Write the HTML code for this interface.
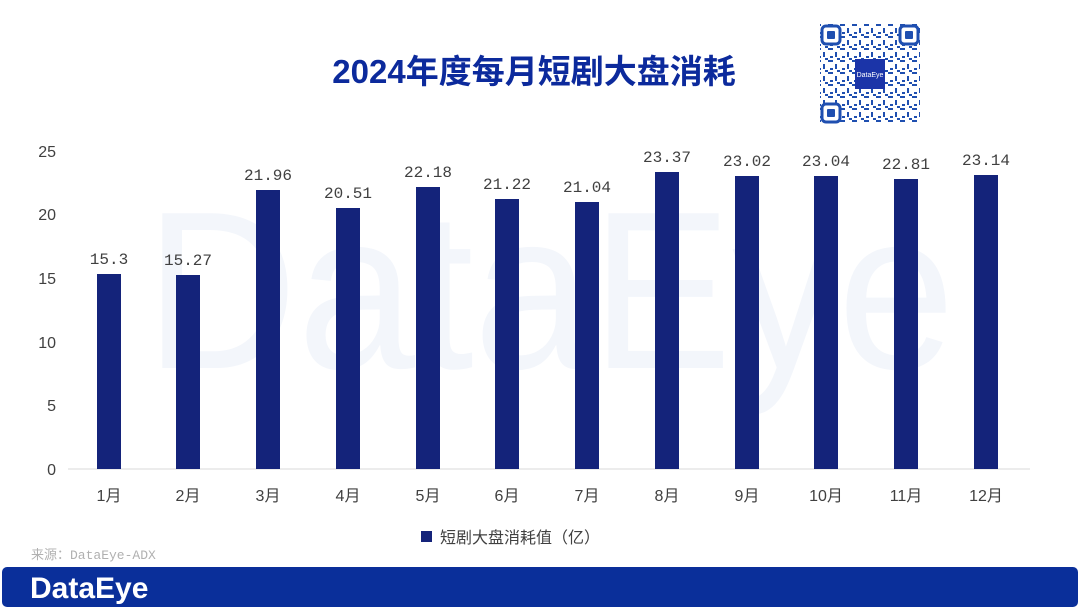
<!DOCTYPE html>
<html><head><meta charset="utf-8"><style>
body{margin:0;width:1080px;height:608px;background:#fff;position:relative;overflow:hidden;font-family:"Liberation Sans","Noto Sans CJK SC",sans-serif}
</style></head><body>
<svg width="1080" height="608" style="position:absolute;left:0;top:0">
<defs>
<pattern id="qr" width="12" height="12" patternUnits="userSpaceOnUse">
<rect x="0" y="0" width="5" height="2" fill="#1f4fb0"/><rect x="7" y="4" width="2" height="5" fill="#1f4fb0"/><rect x="2" y="8" width="3" height="2" fill="#1f4fb0"/><rect x="9" y="10" width="3" height="2" fill="#1f4fb0"/>
</pattern>
</defs>
<text x="550" y="368" font-family="Liberation Sans,sans-serif" font-size="225" fill="#f3f6fb" text-anchor="middle" textLength="810" lengthAdjust="spacingAndGlyphs">DataEye</text>
<rect x="820" y="24" width="100" height="100" fill="url(#qr)"/>
<rect x="822" y="26" width="18" height="18" rx="4" fill="#fff" stroke="#1f4fb0" stroke-width="3"/><rect x="827" y="31" width="8" height="8" rx="1" fill="#1f4fb0"/>
<rect x="900" y="26" width="18" height="18" rx="4" fill="#fff" stroke="#1f4fb0" stroke-width="3"/><rect x="905" y="31" width="8" height="8" rx="1" fill="#1f4fb0"/>
<rect x="822" y="104" width="18" height="18" rx="4" fill="#fff" stroke="#1f4fb0" stroke-width="3"/><rect x="827" y="109" width="8" height="8" rx="1" fill="#1f4fb0"/>
<rect x="855" y="59" width="30" height="30" fill="#1b34a8"/>
<text x="870" y="77" font-size="7" fill="#fff" text-anchor="middle">DataEye</text>
<line x1="68" y1="469" x2="1030" y2="469" stroke="#d9d9d9" stroke-width="1"/>
<g fill="#14237a">
<rect x="97" y="274" width="24" height="195"/>
<rect x="176" y="275" width="24" height="194"/>
<rect x="256" y="190" width="24" height="279"/>
<rect x="336" y="208" width="24" height="261"/>
<rect x="416" y="187" width="24" height="282"/>
<rect x="495" y="199" width="24" height="270"/>
<rect x="575" y="202" width="24" height="267"/>
<rect x="655" y="172" width="24" height="297"/>
<rect x="735" y="176" width="24" height="293"/>
<rect x="814" y="176" width="24" height="293"/>
<rect x="894" y="179" width="24" height="290"/>
<rect x="974" y="175" width="24" height="294"/>
<rect x="421" y="531" width="11" height="11"/>
</g>
<g font-size="16" fill="#404040" text-anchor="middle" font-family="Liberation Mono,monospace">
<text x="109" y="264">15.3</text><text x="188" y="265">15.27</text><text x="268" y="180">21.96</text><text x="348" y="198">20.51</text><text x="428" y="177">22.18</text><text x="507" y="189">21.22</text><text x="587" y="192">21.04</text><text x="667" y="162">23.37</text><text x="747" y="166">23.02</text><text x="826" y="166">23.04</text><text x="906" y="169">22.81</text><text x="986" y="165">23.14</text>
</g>
<g font-size="16" fill="#404040" text-anchor="end">
<text x="56" y="475">0</text><text x="56" y="411">5</text><text x="56" y="348">10</text><text x="56" y="284">15</text><text x="56" y="220">20</text><text x="56" y="157">25</text>
</g>
<g font-size="16" fill="#404040" text-anchor="middle" font-family="Liberation Sans,Noto Sans CJK SC,sans-serif">
<text x="109" y="501">1月</text><text x="188" y="501">2月</text><text x="268" y="501">3月</text><text x="348" y="501">4月</text><text x="428" y="501">5月</text><text x="507" y="501">6月</text><text x="587" y="501">7月</text><text x="667" y="501">8月</text><text x="747" y="501">9月</text><text x="826" y="501">10月</text><text x="906" y="501">11月</text><text x="986" y="501">12月</text>
</g>
<text x="440" y="543" font-size="16" fill="#404040" font-family="Liberation Sans,Noto Sans CJK SC,sans-serif">短剧大盘消耗值（亿）</text>
<text x="31" y="559" font-size="13" fill="#b0b0b0" font-family="Liberation Mono,Noto Sans CJK SC,monospace">来源：DataEye-ADX</text>
<rect x="2" y="567" width="1076" height="40" rx="5" fill="#0a2f9a"/>
<text x="30" y="598" font-size="30" fill="#fff" font-weight="bold" font-family="Liberation Sans,sans-serif">DataEye</text>
<text x="534" y="83" font-size="33" fill="#0c2a9c" font-weight="bold" text-anchor="middle" font-family="Liberation Sans,Noto Sans CJK SC,sans-serif">2024年度每月短剧大盘消耗</text>
</svg>
</body></html>
